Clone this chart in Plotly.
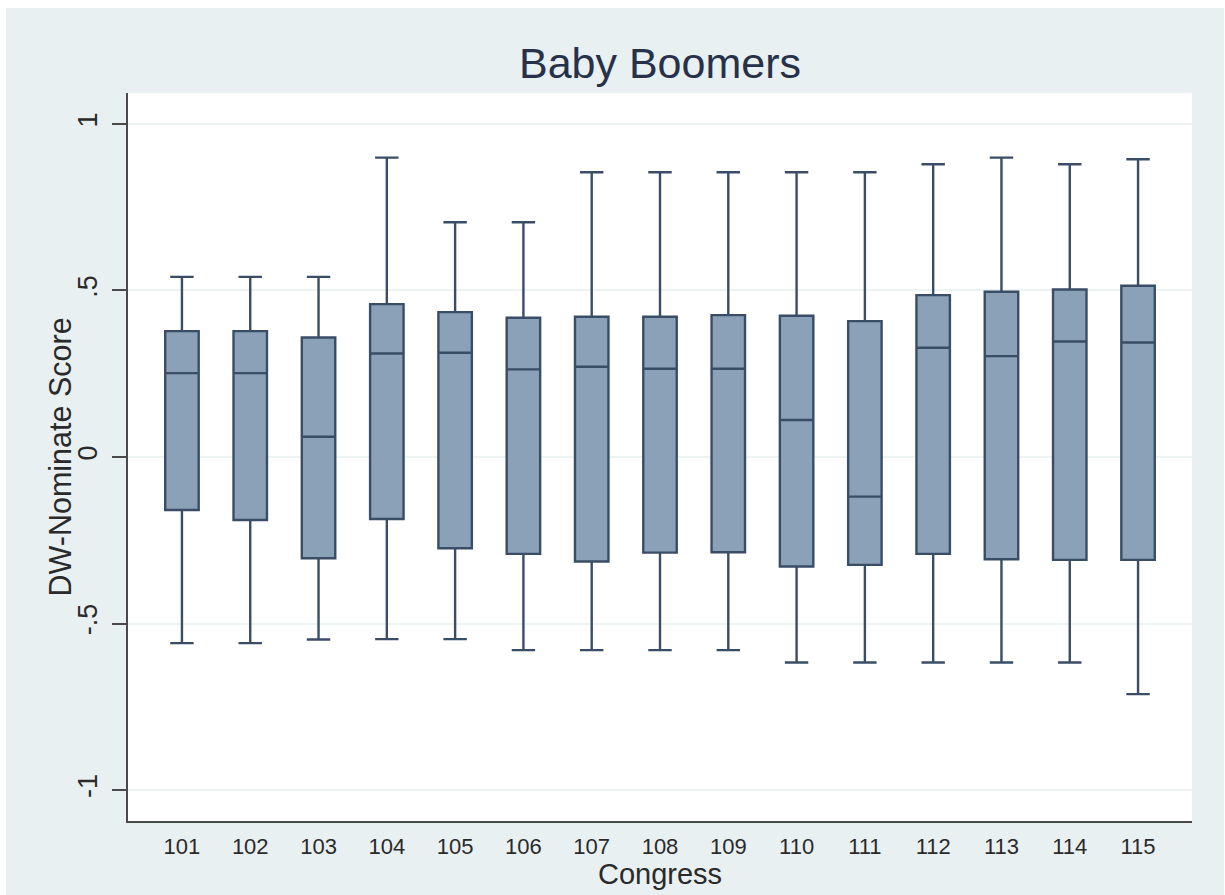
import plotly.graph_objects as go

# Congress sessions and DW-Nominate box-plot statistics (Baby Boomer members)
congress = [101, 102, 103, 104, 105, 106, 107, 108, 109, 110, 111, 112, 113, 114, 115]
upper_adj = [0.541, 0.541, 0.541, 0.899, 0.705, 0.705, 0.855, 0.855, 0.855, 0.855, 0.855, 0.879, 0.899, 0.879, 0.894]
q3 = [0.378, 0.378, 0.359, 0.459, 0.435, 0.418, 0.421, 0.421, 0.426, 0.424, 0.408, 0.486, 0.496, 0.503, 0.514]
median = [0.252, 0.252, 0.061, 0.311, 0.313, 0.263, 0.271, 0.265, 0.265, 0.111, -0.119, 0.328, 0.303, 0.347, 0.344]
q1 = [-0.159, -0.189, -0.304, -0.186, -0.274, -0.291, -0.314, -0.287, -0.286, -0.329, -0.324, -0.291, -0.307, -0.309, -0.309]
lower_adj = [-0.559, -0.559, -0.548, -0.547, -0.547, -0.580, -0.580, -0.580, -0.580, -0.617, -0.617, -0.617, -0.617, -0.617, -0.712]

y_ticks = [-1, -0.5, 0, 0.5, 1]
y_tick_text = ["-1", "-.5", "0", ".5", "1"]

W, H = 1225, 895
L, R, T, B = 128, 33, 93, 74
OUTER = "#e9f0f2"
FILL = "#8ba1b7"
EDGE = "#3a4d66"
TEXT = "#2a2a2a"
FONT = "Liberation Sans, Arial, sans-serif"


def px_x(p):
    return (p - L) / (W - L - R)


def px_y(p):
    return (H - B - p) / (H - T - B)


fig = go.Figure(
    go.Box(
        x=congress,
        q1=q1,
        median=median,
        q3=q3,
        lowerfence=lower_adj,
        upperfence=upper_adj,
        width=0.49,
        whiskerwidth=0.7,
        fillcolor=FILL,
        line=dict(color=EDGE, width=2.4),
        boxpoints=False,
        hoverinfo="skip",
        showlegend=False,
    )
)

# thin white frame around the graph region
frame = [
    (0, 6, 0, H),
    (0, W, 0, 8),
    (1224, W, 0, H),
]
shapes = [
    dict(type="rect", xref="paper", yref="paper",
         x0=px_x(a), x1=px_x(b), y0=px_y(d), y1=px_y(c),
         fillcolor="white", line=dict(width=0), layer="above")
    for a, b, c, d in frame
]

# axis titles
annotations = [
    dict(text="Congress", xref="paper", yref="paper",
         x=0.5, y=px_y(874), xanchor="center", yanchor="middle",
         showarrow=False, font=dict(size=29, color=TEXT, family=FONT)),
    dict(text="DW-Nominate Score", xref="paper", yref="paper",
         x=px_x(59.5), y=0.5, xanchor="center", yanchor="middle", textangle=-90,
         showarrow=False, font=dict(size=30.5, color=TEXT, family=FONT)),
]

fig.update_layout(
    width=W,
    height=H,
    margin=dict(l=L, r=R, t=T, b=B, pad=0, autoexpand=False),
    paper_bgcolor=OUTER,
    plot_bgcolor="white",
    font=dict(family=FONT, color=TEXT),
    title=dict(
        text="Baby Boomers",
        x=0.5 * (L + (W - R)) / W,
        xanchor="center",
        xref="container",
        y=1 - 63 / H,
        yref="container",
        yanchor="middle",
        font=dict(size=43, color="#27324a", family=FONT),
        automargin=False,
    ),
    shapes=shapes,
    annotations=annotations,
    xaxis=dict(
        range=[100.21, 115.79],
        tickmode="array",
        tickvals=congress,
        ticktext=[str(c) for c in congress],
        ticks="outside",
        ticklen=5,
        tickcolor="rgba(0,0,0,0)",
        tickfont=dict(size=22, color=TEXT),
        showgrid=False,
        zeroline=False,
        showline=True,
        linecolor="#4a4a4a",
        linewidth=2,
        automargin=False,
        fixedrange=True,
    ),
    yaxis=dict(
        range=[-1.093, 1.093],
        tickmode="array",
        tickvals=y_ticks,
        ticktext=y_tick_text,
        tickangle=-90,
        ticks="outside",
        ticklen=14,
        tickwidth=1.5,
        tickcolor="#4a4a4a",
        tickfont=dict(size=27, color=TEXT),
        ticklabelstandoff=4,
        showgrid=True,
        gridcolor="#edf2f3",
        gridwidth=1.5,
        zeroline=False,
        showline=True,
        linecolor="#4a4a4a",
        linewidth=2,
        automargin=False,
        fixedrange=True,
    ),
)

fig.write_html("out.html")
